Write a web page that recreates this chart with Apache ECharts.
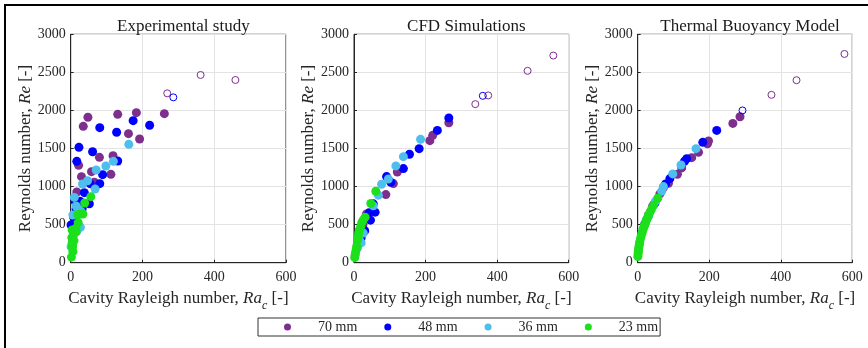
<!DOCTYPE html>
<html>
<head>
<meta charset="utf-8">
<script src="https://cdn.jsdelivr.net/npm/echarts@6/dist/echarts.min.js"></script>
<style>
html,body{margin:0;padding:0;background:#fff;}
#chart{width:868px;height:348px;}
</style>
</head>
<body>
<div id="chart"></div>
<script>
// ---- data ----
var panelTitles = ['Experimental study', 'CFD Simulations', 'Thermal Buoyancy Model'];
var legendNames = ['70 mm', '48 mm', '36 mm', '23 mm'];
var xTicks = [0, 200, 400, 600];
var yTicks = [0, 500, 1000, 1500, 2000, 2500, 3000];

// Experimental study
var exp70 = [[17,929],[30,1130],[22,1279],[35,1791],[48,1910],[58,1196],[66,1056],[80,1384],[112,1161],[118,1406],[131,1949],[161,1695],[183,1971],[192,1625],[261,1958]];
var exp70open = [[269,2225],[362,2466],[459,2400]];
var exp48 = [[23,1515],[17,1331],[61,1458],[81,1774],[128,1713],[174,1866],[220,1805],[131,1336],[89,1156],[81,1038],[54,1038],[38,920],[52,775],[26,806],[12,806],[32,710],[7,473],[15,705],[1,495],[8,600]];
var exp48open = [[286,2172]];
var exp36 = [[162,1555],[119,1331],[98,1270],[71,1218],[47,1077],[33,1034],[68,968],[10,858],[15,745],[29,670],[6,626],[27,464],[17,412],[5,272],[1,210],[22,700]];
var exp23 = [[56,867],[39,784],[34,640],[26,640],[20,630],[21,526],[15,455],[4,430],[15,407],[12,410],[9,289],[5,230],[5,201],[6,145],[2,74],[3,330],[4,260],[7,350]];

// CFD simulations
var cfd70 = [[265,1838],[220,1673],[212,1603],[121,1192],[110,1039],[89,895],[35,640],[25,500]];
var cfd70open = [[557,2721],[485,2520],[375,2197],[339,2083]];
var cfd48 = [[265,1900],[233,1738],[182,1498],[155,1424],[138,1236],[91,1131],[103,1057],[54,773],[42,655],[59,664],[46,559],[20,327],[30,420],[12,250]];
var cfd48open = [[360,2192]];
var cfd36 = [[186,1620],[138,1393],[117,1271],[96,1100],[77,1031],[68,887],[54,747],[26,389],[15,300],[20,260],[10,200]];
var cfd23 = [[61,939],[47,777],[31,598],[26,563],[22,530],[19,476],[15,432],[13,390],[12,345],[10,300],[7.5,214],[6,170],[4,127],[2,66],[3,95]];

// Thermal buoyancy model
var tbm70 = [[286,1917],[266,1830],[198,1598],[195,1563],[170,1450],[151,1380],[123,1245],[111,1162],[86,1044],[72,987],[62,904],[42,747],[30,620]];
var tbm70open = [[578,2742],[444,2397],[374,2205]];
var tbm48 = [[221,1738],[182,1581],[137,1367],[131,1332],[90,1105],[78,1035],[48,782],[20,510]];
var tbm48open = [[293,2000]];
var tbm36 = [[163,1498],[121,1284],[98,1166],[72,1000],[67,939],[49,803],[25,570],[30,607]];
var tbm23 = [[56,847],[44,750],[38,697],[34,660],[30,620],[26,576],[23,542],[20,505],[18,480],[16,452],[14,423],[12,390],[10,357],[8,320],[6,277],[5,250],[4,225],[3,195],[2,160],[1.5,140],[1,113],[0.5,80]];

// ---- styles ----
var colors = {c70:'#7E2F8E', c48:'#0000FF', c36:'#4DBEEE', c23:'#1BE01B'};
var FONT = "'Liberation Serif', 'Times New Roman', serif";
var AX = '#262626';

var grids = [
  {left:70.7, top:34.3, width:215.3, height:228.4},
  {left:354, top:34.3, width:214.7, height:228.4},
  {left:637.7, top:34.3, width:214.6, height:228.4}
];

var panels = [
  {f70:exp70, o70:exp70open, f48:exp48, o48:exp48open, f36:exp36, f23:exp23},
  {f70:cfd70, o70:cfd70open, f48:cfd48, o48:cfd48open, f36:cfd36, f23:cfd23},
  {f70:tbm70, o70:tbm70open, f48:tbm48, o48:tbm48open, f36:tbm36, f23:tbm23}
];

var richName = {
  n:{fontFamily:FONT, fontSize:17, color:AX, lineHeight:20, verticalAlign:'top'},
  i:{fontFamily:FONT, fontSize:17, color:AX, fontStyle:'italic', lineHeight:20, verticalAlign:'top'},
  s:{fontFamily:FONT, fontSize:12, color:AX, fontStyle:'italic', lineHeight:12, padding:[10,0,0,0], verticalAlign:'top'}
};

function plain(v){ return String(v); }

var option = {
  animation:false,
  backgroundColor:'#fff',
  title: panelTitles.map(function(t, k){
    return {text:t, left:grids[k].left + grids[k].width/2, top:13, textAlign:'center',
      textStyle:{fontFamily:FONT, fontSize:17, fontWeight:'normal', color:'#1a1a1a'}};
  }),
  legend:{
    data:legendNames, left:258, top:318, orient:'horizontal', icon:'circle',
    itemWidth:7, itemHeight:7, itemGap:27, padding:[2,2,2,26],
    borderColor:'#333', borderWidth:1, backgroundColor:'#fff',
    formatter:function(name){ return '{sp|}{t|' + name + '}'; },
    textStyle:{fontFamily:FONT, fontSize:14, color:AX,
      rich:{sp:{width:22}, t:{fontFamily:FONT, fontSize:14, color:AX}}}
  },
  graphic:[
    {type:'rect', shape:{x:4, y:4, width:864, height:2}, style:{fill:'#000'}},
    {type:'rect', shape:{x:4, y:4, width:2, height:344}, style:{fill:'#000'}}
  ],
  grid: grids.map(function(g){
    return {left:g.left, top:g.top, width:g.width, height:g.height, show:true,
      borderColor:AX, borderWidth:1, backgroundColor:'#fff'};
  }),
  xAxis: grids.map(function(g, k){
    return {gridIndex:k, type:'value', min:xTicks[0], max:xTicks[xTicks.length-1], interval:xTicks[1]-xTicks[0],
      name:'{n|Cavity Rayleigh number, }{i|Ra}{s|c}{n| [-]}', nameLocation:'middle', nameGap:19,
      nameTextStyle:{fontFamily:FONT, rich:richName},
      axisLine:{show:true, onZero:false, lineStyle:{color:AX, width:1}},
      axisTick:{show:true, inside:true, length:3, lineStyle:{color:AX}},
      axisLabel:{color:AX, fontFamily:FONT, fontSize:14, margin:8, formatter:plain},
      splitLine:{show:true, lineStyle:{color:'#e3e3e3', width:1}}};
  }),
  yAxis: grids.map(function(g, k){
    return {gridIndex:k, type:'value', min:yTicks[0], max:yTicks[yTicks.length-1], interval:yTicks[1]-yTicks[0],
      name:'{n|Reynolds number, }{i|Re}{n| [-]}', nameLocation:'middle', nameGap:35,
      nameTextStyle:{fontFamily:FONT, rich:{
        n:{fontFamily:FONT, fontSize:17, color:AX},
        i:{fontFamily:FONT, fontSize:17, color:AX, fontStyle:'italic'}
      }},
      axisLine:{show:true, onZero:false, lineStyle:{color:AX, width:1}},
      axisTick:{show:true, inside:true, length:3, lineStyle:{color:AX}},
      axisLabel:{color:AX, fontFamily:FONT, fontSize:14, margin:5, formatter:plain},
      splitLine:{show:true, lineStyle:{color:'#e3e3e3', width:1}}};
  }),
  series:[]
};

panels.forEach(function(p, k){
  function filled(name, data, color){
    option.series.push({type:'scatter', name:name, xAxisIndex:k, yAxisIndex:k, data:data,
      symbol:'circle', symbolSize:9, itemStyle:{color:color, opacity:1}, silent:true});
  }
  function open(name, data, color){
    option.series.push({type:'scatter', name:name, xAxisIndex:k, yAxisIndex:k, data:data,
      symbol:'circle', symbolSize:7, itemStyle:{color:'rgba(0,0,0,0)', borderColor:color, borderWidth:1, opacity:1}, silent:true});
  }
  filled(legendNames[0], p.f70, colors.c70);
  open('open70', p.o70, colors.c70);
  filled(legendNames[1], p.f48, colors.c48);
  open('open48', p.o48, colors.c48);
  filled(legendNames[2], p.f36, colors.c36);
  filled(legendNames[3], p.f23, colors.c23);
});

var chart = echarts.init(document.getElementById('chart'), null, {renderer:'canvas'});
chart.setOption(option);
</script>
</body>
</html>
